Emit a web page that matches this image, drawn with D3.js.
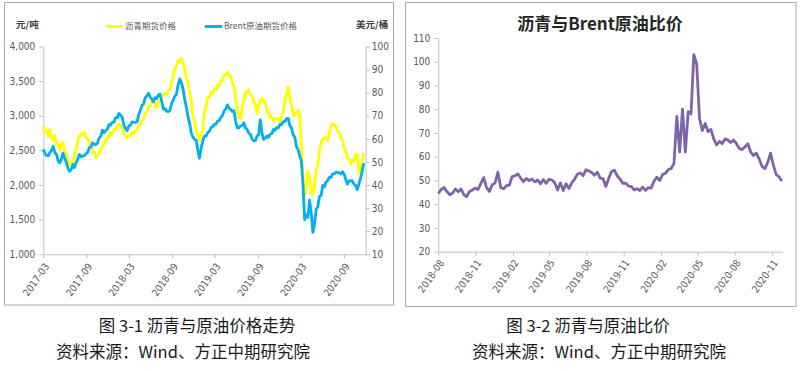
<!DOCTYPE html>
<head>
  <meta charset="utf-8">
  <style>
    body { margin: 0; background: #fff; }

    svg text {
      font-family: "Liberation Sans Narrow", "DejaVu Sans Condensed", "Liberation Sans", sans-serif;
    }

    svg .axis path,
    svg .axis line {
      stroke: #bfbfbf;
      stroke-width: 1px;
    }

    svg .axis text {
      fill: #595959;
      font-size: 10px;
    }

    svg .cjk {
      font-family: "Noto Sans CJK SC", sans-serif;
    }

    svg .frame {
      fill: none;
      stroke: #ababab;
      stroke-width: 1px;
    }
  </style>
</head>

<body>
<script src="https://d3js.org/d3.v7.min.js"></script>

<script>
// weekly samples
var priceStart = "2017-03-01";

// 沥青期货价格, 元/吨
var asphalt = [
  2860, 2760, 2790, 2700, 2800, 2690, 2650, 2720, 2580, 2600,
  2500, 2590, 2620, 2500, 2440, 2340, 2290, 2330, 2300, 2450,
  2520, 2660, 2700, 2740, 2720, 2760, 2680, 2670, 2590, 2570,
  2480, 2470, 2400, 2440, 2450, 2520, 2540, 2620, 2640, 2700,
  2690, 2760, 2740, 2800, 2790, 2860, 2890, 2850, 2830, 2740,
  2710, 2680, 2720, 2710, 2760, 2740, 2790, 2780, 2860, 2870,
  2940, 2950, 3040, 3060, 3130, 3150, 3220, 3190, 3170, 3110,
  3200, 3220, 3280, 3290, 3320, 3310, 3360, 3380, 3490, 3570,
  3680, 3720, 3800, 3780, 3830, 3760, 3690, 3540, 3480, 3340,
  3220, 3010, 2920, 2770, 2720, 2640, 2740, 2790, 3070, 3130,
  3270, 3270, 3340, 3330, 3390, 3370, 3440, 3430, 3510, 3520,
  3580, 3590, 3635, 3580, 3570, 3480, 3430, 3240, 3110, 2980,
  2950, 3120, 3250, 3340, 3360, 3370, 3300, 3290, 3210, 3160,
  3030, 3140, 3210, 3250, 3230, 3190, 3070, 3050, 2970, 2990,
  2930, 2960, 2950, 2960, 2910, 3000, 3060, 3220, 3310, 3420,
  3240, 3160, 3010, 3000, 3060, 3080, 2990, 2550, 2150, 1840,
  1990, 2200, 2120, 1900, 1860, 2000, 2220, 2300, 2480, 2600,
  2670, 2680, 2690, 2640, 2770, 2840, 2890, 2870, 2850, 2770,
  2760, 2680, 2650, 2530, 2500, 2390, 2380, 2300, 2360, 2340,
  2440, 2450, 2180, 2240, 2350, 2460
];

// Brent原油期货价格, 美元/桶
var brent = [
  55.5, 53.6, 52.8, 52.6, 54.0, 55.0, 56.8, 54.0, 53.4, 50.6,
  49.6, 51.2, 53.8, 51.6, 49.9, 47.2, 46.0, 46.6, 48.9, 47.6,
  49.8, 51.2, 53.3, 52.1, 52.6, 52.7, 53.6, 54.2, 56.2, 56.5,
  58.3, 57.5, 57.6, 58.2, 60.4, 61.2, 63.8, 62.6, 63.6, 64.2,
  66.2, 66.0, 67.2, 67.2, 69.2, 69.2, 71.0, 70.2, 69.4, 66.0,
  64.5, 63.6, 65.6, 65.9, 67.3, 67.2, 67.1, 67.2, 70.4, 72.2,
  74.4, 75.1, 77.8, 78.6, 79.8, 78.1, 77.3, 76.1, 77.8, 77.4,
  79.1, 79.3, 76.4, 72.9, 73.1, 72.0, 71.8, 72.2, 75.3, 76.7,
  78.5, 79.2, 83.3, 86.0, 84.2, 81.8, 77.2, 73.8, 69.6, 66.8,
  62.7, 60.8, 59.7, 59.5, 55.2, 51.6, 55.9, 59.0, 61.2, 61.2,
  62.7, 63.2, 64.9, 65.2, 66.3, 66.3, 67.7, 67.9, 69.2, 70.2,
  72.1, 72.9, 74.7, 73.2, 72.8, 71.9, 72.1, 67.7, 64.9, 64.7,
  65.6, 65.7, 67.0, 64.7, 64.1, 62.5, 62.0, 59.9, 59.1, 59.2,
  61.2, 61.7, 68.2, 62.7, 59.8, 60.2, 61.2, 60.7, 62.0, 62.2,
  64.1, 63.7, 64.9, 64.7, 66.3, 66.2, 67.5, 67.5, 68.8, 68.9,
  65.7, 64.8, 61.7, 60.8, 56.7, 55.3, 52.7, 50.5, 40.0, 25.0,
  27.0, 26.0, 33.5, 28.0, 19.5, 23.0, 29.5, 30.5, 35.0, 35.5,
  39.8, 39.2, 41.3, 41.9, 43.3, 43.3, 44.8, 44.8, 45.6, 45.5,
  45.3, 44.8, 45.8, 44.8, 42.3, 40.4, 41.8, 41.9, 41.8, 40.4,
  39.8, 38.0, 40.5, 43.0, 46.0, 49.4
];

var ratioStart = "2018-08-01";

// 沥青与Brent原油比价
var ratio = [
  44.5, 46.2, 47.0, 45.4, 44.0, 44.6, 46.4, 45.2, 46.4, 44.0,
  43.2, 45.4, 46.0, 46.8, 46.2, 48.8, 51.2, 47.0, 45.4, 48.2,
  49.0, 53.5, 47.0, 46.5, 47.8, 48.0, 51.6, 52.0, 52.8, 51.0,
  49.5, 50.8, 50.0, 50.6, 49.4, 50.2, 48.6, 50.4, 48.8, 50.5,
  50.2, 49.0, 46.0, 49.0, 45.8, 48.6, 46.6, 49.0, 50.6, 52.6,
  53.2, 52.0, 54.5, 54.0, 53.4, 52.2, 53.5, 51.0, 50.8, 47.5,
  50.8, 53.8, 54.3, 52.0, 50.6, 48.8, 48.9, 47.6, 47.4, 46.0,
  46.5, 45.8, 47.2, 45.8, 47.0, 46.8, 49.8, 51.4, 50.0, 52.6,
  53.0, 54.6, 55.0, 57.2, 77.0, 62.0, 80.0, 62.0, 79.0, 78.0,
  103.0, 99.0, 76.0, 71.0, 74.0, 70.5, 71.5, 67.5, 65.0, 66.5,
  65.5, 67.5, 67.0, 66.0, 67.0, 65.5, 63.5, 63.0, 64.2, 65.5,
  62.0, 60.5, 61.5, 59.0, 56.0, 55.0, 57.5, 61.5, 56.5, 52.5,
  51.5, 49.8
];

var priceMonths = ["2017-03", "2017-09", "2018-03", "2018-09", "2019-03", "2019-09", "2020-03", "2020-09"];
var asphaltTicks = [1000, 1500, 2000, 2500, 3000, 3500, 4000];
var brentTicks = [10, 20, 30, 40, 50, 60, 70, 80, 90, 100];
var ratioMonths = ["2018-08", "2018-11", "2019-02", "2019-05", "2019-08", "2019-11", "2020-02", "2020-05", "2020-08", "2020-11"];
var ratioTicks = [20, 30, 40, 50, 60, 70, 80, 90, 100, 110];

var parseDay = d3.timeParse("%Y-%m-%d"),
    parseMonth = d3.timeParse("%Y-%m"),
    fmtMonth = d3.timeFormat("%Y-%m");

function weekly(start, values) {
  var t0 = parseDay(start);
  return values.map(function (v, i) {
    return { date: d3.timeDay.offset(t0, i * 7), value: v };
  });
}

function rotateLabels(g, down) {
  g.selectAll(".tick text")
      .attr("x", 0)
      .attr("y", 0)
      .attr("dy", "0.35em")
      .attr("transform", "translate(3," + down + ") rotate(-55)")
      .style("text-anchor", "end");
}

var svg = d3.select("body")
  .append("svg")
    .attr("width", 802)
    .attr("height", 371);

svg.append("rect").classed("frame", true)
    .attr("x", 4.5).attr("y", 2.5).attr("width", 389).attr("height", 302.5);
svg.append("rect").classed("frame", true)
    .attr("x", 405.5).attr("y", 2.5).attr("width", 390.5).attr("height", 304);

// ---------- left: price chart ----------
var px = d3.scaleTime()
    .domain([parseDay("2017-03-01"), parseDay("2020-12-03")])
    .range([43.3, 365.7]);
var pyL = d3.scaleLinear().domain([1000, 4000]).range([254.3, 46.5]);
var pyR = d3.scaleLinear().domain([10, 100]).range([254.3, 46.5]);

svg.append("g")
    .classed("axis", true)
    .attr("transform", "translate(43.3,0)")
    .call(d3.axisLeft(pyL).tickValues(asphaltTicks).tickSize(4).tickSizeOuter(0)
      .tickFormat(d3.format(",")))
    .call(function (g) { g.selectAll(".tick text").attr("x", -8); });

svg.append("g")
    .classed("axis", true)
    .attr("transform", "translate(365.7,0)")
    .call(d3.axisRight(pyR).tickValues(brentTicks).tickSize(4).tickSizeOuter(0))
    .call(function (g) { g.selectAll(".tick text").attr("x", 6); });

svg.append("g")
    .classed("axis", true)
    .attr("transform", "translate(0,254.3)")
    .call(d3.axisBottom(px).tickValues(priceMonths.map(parseMonth)).tickSize(4).tickSizeOuter(0)
      .tickFormat(fmtMonth))
    .call(rotateLabels, 10);

var asphaltLine = d3.line()
    .x(function (d) { return px(d.date); })
    .y(function (d) { return pyL(d.value); });
var brentLine = d3.line()
    .x(function (d) { return px(d.date); })
    .y(function (d) { return pyR(d.value); });

svg.append("path")
    .attr("d", asphaltLine(weekly(priceStart, asphalt)))
    .style("fill", "none")
    .style("stroke", "#ffff00")
    .style("stroke-width", "2.8px")
    .style("stroke-linejoin", "round");

svg.append("path")
    .attr("d", brentLine(weekly(priceStart, brent)))
    .style("fill", "none")
    .style("stroke", "#00b0f0")
    .style("stroke-width", "2.8px")
    .style("stroke-linejoin", "round");

// unit labels
svg.append("text").classed("cjk", true)
    .attr("x", 16).attr("y", 25).attr("dy", "0.35em")
    .text("元/吨")
    .style("font-size", "9.5px").style("font-weight", "bold").style("fill", "#404040");
svg.append("text").classed("cjk", true)
    .attr("x", 356).attr("y", 25).attr("dy", "0.35em")
    .text("美元/桶")
    .style("font-size", "9.5px").style("font-weight", "bold").style("fill", "#404040");

// legend
var legend = [
  { name: "沥青期货价格", color: "#ffff00", x: 106 },
  { name: "Brent原油期货价格", color: "#00b0f0", x: 205 }
];
var lg = svg.selectAll("g.legend").data(legend).enter()
  .append("g").classed("legend", true)
    .attr("transform", function (d) { return "translate(" + d.x + ",26.5)"; });
lg.append("line")
    .attr("x1", 0).attr("x2", 17).attr("y1", 0).attr("y2", 0)
    .style("stroke", function (d) { return d.color; })
    .style("stroke-width", "3px");
lg.append("text").classed("cjk", true)
    .attr("x", 19).attr("dy", "0.35em")
    .text(function (d) { return d.name; })
    .style("font-size", "8.5px").style("fill", "#595959");

// ---------- right: ratio chart ----------
var rx = d3.scaleTime()
    .domain([parseDay("2018-08-01"), parseDay("2020-11-27")])
    .range([438.3, 782.7]);
var ry = d3.scaleLinear().domain([20, 110]).range([251.7, 38]);

svg.append("g")
    .classed("axis", true)
    .attr("transform", "translate(438.3,0)")
    .call(d3.axisLeft(ry).tickValues(ratioTicks).tickSize(4).tickSizeOuter(0))
    .call(function (g) { g.selectAll(".tick text").attr("x", -8); });

svg.append("g")
    .classed("axis", true)
    .attr("transform", "translate(0,251.7)")
    .call(d3.axisBottom(rx).tickValues(ratioMonths.map(parseMonth)).tickSize(4).tickSizeOuter(0)
      .tickFormat(fmtMonth))
    .call(rotateLabels, 9);

var ratioLine = d3.line()
    .x(function (d) { return rx(d.date); })
    .y(function (d) { return ry(d.value); });

svg.append("path")
    .attr("d", ratioLine(weekly(ratioStart, ratio)))
    .style("fill", "none")
    .style("stroke", "#7f64a8")
    .style("stroke-width", "2.8px")
    .style("stroke-linejoin", "round");

svg.append("text").classed("cjk", true)
    .attr("x", 600).attr("y", 24).attr("dy", "0.35em")
    .attr("text-anchor", "middle")
    .text("沥青与Brent原油比价")
    .style("font-size", "17px").style("font-weight", "bold").style("fill", "#262626");

// ---------- captions ----------
var captions = [
  { text: "图 3-1 沥青与原油价格走势", x: 197, y: 326 },
  { text: "资料来源：Wind、方正中期研究院", x: 183, y: 352 },
  { text: "图 3-2 沥青与原油比价", x: 588, y: 326 },
  { text: "资料来源：Wind、方正中期研究院", x: 599, y: 352 }
];
svg.selectAll("text.caption").data(captions).enter()
  .append("text").classed("caption cjk", true)
    .attr("x", function (d) { return d.x; })
    .attr("y", function (d) { return d.y; })
    .attr("dy", "0.35em")
    .attr("text-anchor", "middle")
    .text(function (d) { return d.text; })
    .style("font-size", "16.5px")
    .style("fill", "#1a1a1a");
</script>
</body>
</html>
